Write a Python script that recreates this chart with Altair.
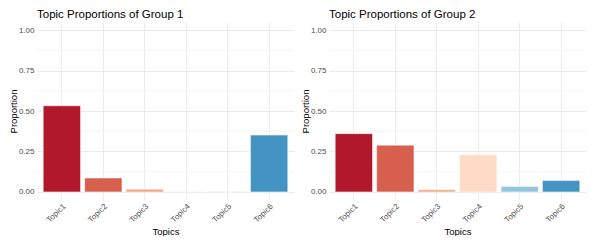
import altair as alt
import pandas as pd

topics = ["Topic1", "Topic2", "Topic3", "Topic4", "Topic5", "Topic6"]
group1 = [0.532, 0.086, 0.017, 0.003, 0.001, 0.351]
group2 = [0.360, 0.289, 0.013, 0.230, 0.033, 0.070]
colors = ["#B2182B", "#D6604D", "#F4A582", "#FDDBC7", "#92C5DE", "#4393C3"]
major_ticks = [0, 0.25, 0.5, 0.75, 1.0]
minor_ticks = [0.125, 0.375, 0.625, 0.875]

FONT = "Liberation Sans"
W, H = 257, 178


def yaxis():
    return alt.Axis(title="Proportion", values=major_ticks, format=".2f",
                    ticks=False, domain=False, grid=True, gridColor="#EBEBEB",
                    labelColor="#4D4D4D", labelFontSize=8, labelFont=FONT,
                    labelPadding=3, titleFont=FONT, titleFontSize=9.5,
                    titleFontWeight="normal", titleColor="#000000",
                    titlePadding=0)


def panel(values, title):
    df = pd.DataFrame({"Topic": topics, "Proportion": values})
    minor = pd.DataFrame({"Proportion": minor_ticks})
    yscale = alt.Scale(domain=[-0.05, 1.05], nice=False, zero=False)
    xscale = alt.Scale(domain=topics, paddingInner=0.1, paddingOuter=0.15)
    rules = alt.Chart(minor).mark_rule(color="#F4F4F4", strokeWidth=1).encode(
        y=alt.Y("Proportion:Q", scale=yscale, axis=yaxis())
    )
    bars = alt.Chart(df).mark_bar(stroke="white", strokeWidth=0.5).encode(
        x=alt.X("Topic:N", scale=xscale, sort=topics,
                axis=alt.Axis(title="Topics", labelAngle=-45, labelAlign="right",
                              labelBaseline="top", labelPadding=2, ticks=False,
                              domain=False, grid=True, gridColor="#EBEBEB",
                              labelColor="#4D4D4D", labelFontSize=8, labelFont=FONT,
                              titleFont=FONT, titleFontSize=9.5, titleFontWeight="normal",
                              titleColor="#000000", titlePadding=2)),
        y=alt.Y("Proportion:Q", scale=yscale, axis=yaxis()),
        color=alt.Color("Topic:N", scale=alt.Scale(domain=topics, range=colors), legend=None),
    )
    return alt.layer(rules, bars).properties(
        width=W, height=H,
        title=alt.TitleParams(title, anchor="start", font=FONT, fontSize=11.5,
                              fontWeight="normal", color="#000000", offset=2, frame="group"),
    )


chart = alt.hconcat(
    panel(group1, "Topic Proportions of Group 1"),
    panel(group2, "Topic Proportions of Group 2"),
    spacing=5,
).properties(padding=0).configure_view(strokeWidth=0).resolve_scale(color="independent")

chart.save("out.html", embed_options={"renderer": "svg", "actions": False})
